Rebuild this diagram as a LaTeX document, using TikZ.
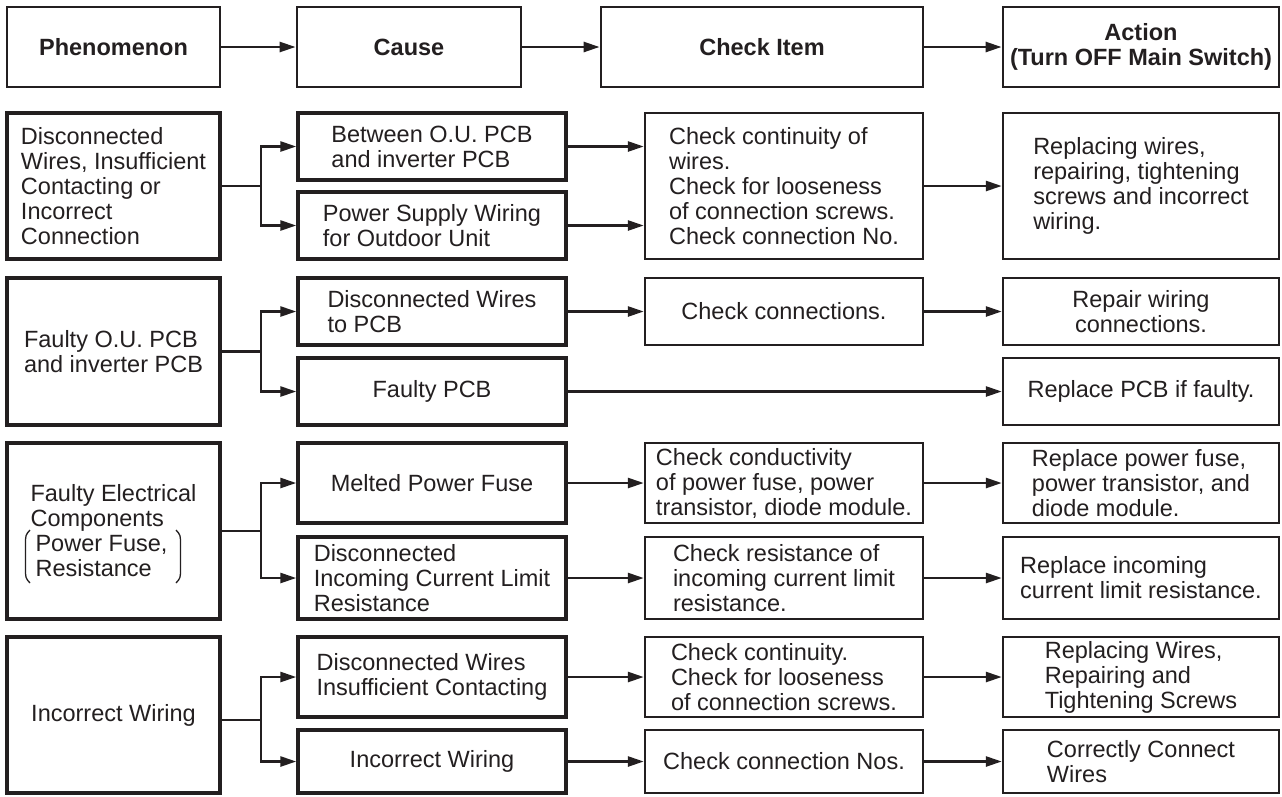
\documentclass[tikz,border=0pt]{standalone}
\usepackage{fontspec}
\setmainfont{Liberation Sans}
\usetikzlibrary{arrows.meta,calc}
\definecolor{ink}{HTML}{231F20}
\begin{document}
\begin{tikzpicture}[x=1pt,y=-1pt,
  every node/.style={font=\fontsize{23.5}{25}\selectfont, text=ink},
  basebox/.style={draw=ink, rectangle, inner sep=0pt, align=left},
  hdr/.style={basebox, line width=2.8pt, minimum height=80pt, align=center,
              font=\fontsize{23.5}{25}\selectfont\bfseries},
  phen/.style={basebox, line width=3.4pt, minimum width=213pt},
  cause/.style={basebox, line width=3.4pt, minimum width=268pt},
  check/.style={basebox, line width=2.4pt, minimum width=278pt},
  act/.style={basebox, line width=2.4pt, minimum width=276pt},
  link/.style={draw=ink, line width=2.6pt},
  arr/.style={link, -{Triangle[length=16pt,width=10pt]}},
]
\useasboundingbox (0,0) rectangle (1282,796);
\fill[white] (0,0) rectangle (1282,796);

% column headings
\node[hdr, minimum width=213pt] (hP) at (113.5,47) {Phenomenon};
\node[hdr, minimum width=224pt] (hC) at (409,47) {Cause};
\node[hdr, minimum width=322pt] (hK) at (762,47) {Check Item};
\node[hdr, minimum width=276pt] (hA) at (1141,47) {Action\\(Turn OFF Main Switch)};
\draw[arr] (hP.east) -- (hC.west);
\draw[arr] (hC.east) -- (hK.west);
\draw[arr] (hK.east) -- (hA.west);

% row 1: wiring and connections
\node[phen, minimum height=146pt] (p1) at (113.5,186) {Disconnected\\Wires, Insufficient\\Contacting or\\Incorrect\\Connection};
\node[cause, minimum height=67pt] (c1a) at (432,146.5) {Between O.U. PCB\\and inverter PCB};
\node[cause, minimum height=67pt] (c1b) at (432,225.5) {Power Supply Wiring\\for Outdoor Unit};
\node[check, minimum height=146pt] (k1) at (784,186) {Check continuity of\\wires.\\Check for looseness\\of connection screws.\\Check connection No.};
\node[act, minimum height=146pt] (a1) at (1141,186) {Replacing wires,\\repairing, tightening\\screws and incorrect\\wiring.};

% row 2: printed circuit boards
\node[phen, minimum height=147pt] (p2) at (113.5,351.5) {Faulty O.U. PCB\\and inverter PCB};
\node[cause, minimum height=67pt] (c2a) at (432,311.5) {Disconnected Wires\\to PCB};
\node[cause, minimum height=67pt, align=center] (c2b) at (432,391.5) {Faulty PCB};
\node[check, minimum height=67pt] (k2) at (784,311.5) {Check connections.};
\node[act, minimum height=67pt, align=center] (a2a) at (1141,311.5) {Repair wiring\\connections.};
\node[act, minimum height=67pt] (a2b) at (1141,391.5) {Replace PCB if faulty.};

% row 3: electrical components
\node[phen, minimum height=176pt] (p3) at (113.5,531) {Faulty Electrical\\Components\\\hspace*{5pt}Power Fuse,\\\hspace*{5pt}Resistance};
\node[cause, minimum height=80pt] (c3a) at (432,483) {Melted Power Fuse};
\node[cause, minimum height=82pt] (c3b) at (432,578) {Disconnected\\Incoming Current Limit\\Resistance};
\node[check, minimum height=80pt] (k3a) at (784,483) {Check conductivity\\of power fuse, power\\transistor, diode module.};
\node[check, minimum height=82pt] (k3b) at (784,578) {Check resistance of\\incoming current limit\\resistance.};
\node[act, minimum height=80pt] (a3a) at (1141,483) {Replace power fuse,\\power transistor, and\\diode module.};
\node[act, minimum height=82pt] (a3b) at (1141,578) {Replace incoming\\current limit resistance.};
% brackets round the component list
\draw[ink, line width=1.3pt] (30,530) .. controls (25.5,535) .. (25.5,545) -- (25.5,568) .. controls (25.5,578) .. (30,583);
\draw[ink, line width=1.3pt] (176,530) .. controls (180.5,535) .. (180.5,545) -- (180.5,568) .. controls (180.5,578) .. (176,583);

% row 4: wiring mistakes
\node[phen, minimum height=156pt] (p4) at (113.5,715) {Incorrect Wiring};
\node[cause, minimum height=80pt] (c4a) at (432,677) {Disconnected Wires\\Insufficient Contacting};
\node[cause, minimum height=63pt, align=center] (c4b) at (432,761.5) {Incorrect Wiring};
\node[check, minimum height=80pt] (k4a) at (784,677) {Check continuity.\\Check for looseness\\of connection screws.};
\node[check, minimum height=63pt] (k4b) at (784,761.5) {Check connection Nos.};
\node[act, minimum height=80pt] (a4a) at (1141,677) {Replacing Wires,\\Repairing and\\Tightening Screws};
\node[act, minimum height=63pt] (a4b) at (1141,761.5) {Correctly Connect\\Wires};

% branch points
\coordinate (b1) at (261,186);
\coordinate (b2) at (261,351.5);
\coordinate (b3) at (261,531);
\coordinate (b4) at (261,720);

\draw[link] (p1.east) -- (b1);
\draw[arr] (b1) |- (c1a.west);
\draw[arr] (b1) |- (c1b.west);
\draw[link] (p2.east) -- (b2);
\draw[arr] (b2) |- (c2a.west);
\draw[arr] (b2) |- (c2b.west);
\draw[link] (p3.east) -- (b3);
\draw[arr] (b3) |- (c3a.west);
\draw[arr] (b3) |- (c3b.west);
\draw[link] (b4 -| p4.east) -- (b4);
\draw[arr] (b4) |- (c4a.west);
\draw[arr] (b4) |- (c4b.west);

% cause -> check -> action
\draw[arr] (c1a.east) -- (c1a.east -| k1.west);
\draw[arr] (c1b.east) -- (c1b.east -| k1.west);
\draw[arr] (k1.east) -- (a1.west);
\draw[arr] (c2a.east) -- (k2.west);
\draw[arr] (k2.east) -- (a2a.west);
\draw[arr] (c2b.east) -- (a2b.west);
\draw[arr] (c3a.east) -- (k3a.west);
\draw[arr] (k3a.east) -- (a3a.west);
\draw[arr] (c3b.east) -- (k3b.west);
\draw[arr] (k3b.east) -- (a3b.west);
\draw[arr] (c4a.east) -- (k4a.west);
\draw[arr] (k4a.east) -- (a4a.west);
\draw[arr] (c4b.east) -- (k4b.west);
\draw[arr] (k4b.east) -- (a4b.west);
\end{tikzpicture}
\end{document}
